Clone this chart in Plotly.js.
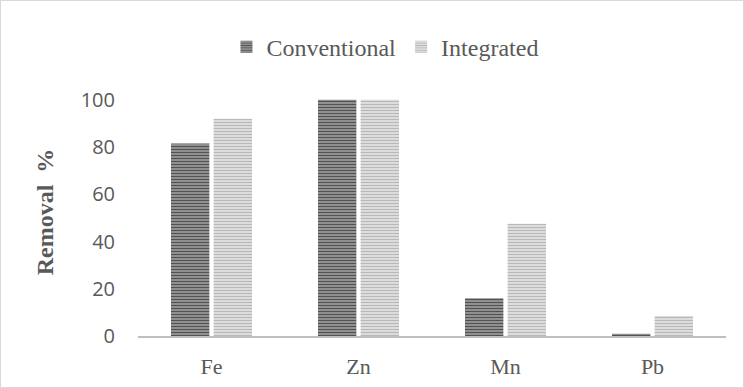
<!DOCTYPE html>
<html><head><meta charset="utf-8">
<script src="https://cdn.plot.ly/plotly-3.0.1.min.js"></script>
<style>html,body{margin:0;padding:0;background:#fff}
#chart{width:742px;height:386px;border:1px solid #d9d9d9}</style>
</head><body><div id="chart"></div>
<script>
const categories = ['Fe', 'Zn', 'Mn', 'Pb'];
const conventional = [81.5, 100, 16, 1];
const integrated = [92, 100, 47.5, 8.5];
const yTicks = [0, 20, 40, 60, 80, 100];

const traces = [
  {type:'bar', name:'Conventional', x:categories, y:conventional,
   marker:{color:'#8c8c8c', line:{width:0},
     pattern:{shape:'-', fgcolor:'#525252', bgcolor:'#979797', size:3, solidity:0.4}}},
  {type:'bar', name:'Integrated', x:categories, y:integrated,
   marker:{color:'#d0d0d0', line:{width:0},
     pattern:{shape:'-', fgcolor:'#b8b8b8', bgcolor:'#e0e0e0', size:3, solidity:0.4}}}
];
const layout = {
  width:742, height:386,
  margin:{l:137, r:17, t:87, b:51},
  paper_bgcolor:'#fff', plot_bgcolor:'#fff',
  barmode:'group', bargap:0.42, bargroupgap:0.1,
  showlegend:true,
  legend:{orientation:'h', x:0.42, xanchor:'center', y:1.165, yanchor:'middle',
    font:{family:'Liberation Serif, Times New Roman, serif', size:24, color:'#595959'},
    itemwidth:30, traceorder:'normal'},
  xaxis:{showline:true, linecolor:'#bfbfbf', linewidth:2, showgrid:false,
    ticks:'outside', ticklen:10, tickcolor:'rgba(0,0,0,0)',
    tickfont:{family:'Liberation Serif, Times New Roman, serif', size:22, color:'#595959'}},
  yaxis:{range:[0,105], tickvals:yTicks, showgrid:false, zeroline:false, showline:false,
    ticks:'outside', ticklen:18, tickcolor:'rgba(0,0,0,0)',
    tickfont:{family:'Open Sans, sans-serif', size:20, color:'#595959'},
    title:{text:'Removal\u00a0\u00a0%', standoff:20,
      font:{family:'Liberation Serif, Times New Roman, serif', size:24, color:'#595959', weight:'bold'}}}
};
Plotly.newPlot('chart', traces, layout, {displayModeBar:false, staticPlot:true});
</script></body></html>
